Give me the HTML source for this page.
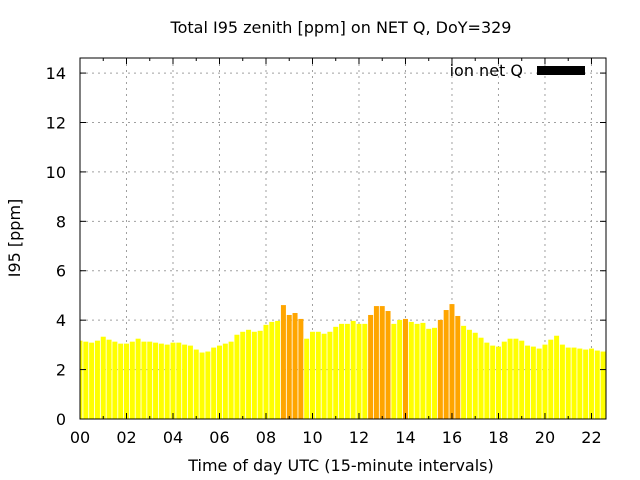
<!DOCTYPE html>
<html><head><meta charset="utf-8">
<style>
body{margin:0;background:#fff;}
svg{display:block;font-family:"DejaVu Sans","Liberation Sans",sans-serif;}
</style></head>
<body>
<svg id="chart" width="640" height="480" viewBox="0 0 640 480" xmlns="http://www.w3.org/2000/svg">
<rect width="640" height="480" fill="#fff"/>
<text x="341" y="33" text-anchor="middle" font-size="16" fill="#000">Total I95 zenith [ppm] on NET Q, DoY=329</text>
<g id="grid"></g>
<g id="bars"></g>
<g id="axes"></g>
<text x="341" y="471" text-anchor="middle" font-size="16">Time of day UTC (15-minute intervals)</text>
<text x="0" y="0" transform="translate(20,238) rotate(-90)" text-anchor="middle" font-size="16">I95 [ppm]</text>
<g>
<text x="523" y="76" text-anchor="end" font-size="16">ion net Q</text>
<rect x="537" y="66" width="48" height="9" fill="#000"/>
</g>
</svg>
<script>
const values = [3.17,3.13,3.09,3.17,3.33,3.21,3.13,3.05,3.05,3.13,3.25,3.13,3.13,3.09,3.05,3.01,3.09,3.09,3.01,2.97,2.81,2.69,2.73,2.89,2.97,3.05,3.13,3.41,3.53,3.61,3.53,3.57,3.81,3.93,3.97,4.61,4.21,4.29,4.05,3.25,3.53,3.53,3.45,3.53,3.73,3.85,3.85,3.97,3.85,3.85,4.21,4.57,4.57,4.37,3.85,4.01,4.05,3.93,3.85,3.89,3.65,3.69,4.01,4.41,4.65,4.17,3.77,3.61,3.49,3.29,3.09,2.97,2.93,3.13,3.25,3.25,3.17,2.97,2.93,2.85,3.01,3.21,3.37,3.01,2.89,2.89,2.85,2.81,2.85,2.77,2.73,2.73];
const highlighted = [0,0,0,0,0,0,0,0,0,0,0,0,0,0,0,0,0,0,0,0,0,0,0,0,0,0,0,0,0,0,0,0,0,0,0,1,1,1,1,0,0,0,0,0,0,0,0,0,0,0,1,1,1,1,0,0,1,0,0,0,0,0,1,1,1,1,0,0,0,0,0,0,0,0,0,0,0,0,0,0,0,0,0,0,0,0,0,0,0,0,0,0];
const xTicks = [0,2,4,6,8,10,12,14,16,18,20,22];
const xTickLabels = ["00","02","04","06","08","10","12","14","16","18","20","22"];
const yTicks = [0,2,4,6,8,10,12,14];
const yTickLabels = ["0","2","4","6","8","10","12","14"];
const stepHours = 0.25;

const L=80,R=606,T=58,B=419;
const xMax=22.625, yMax=14.61;
const xs=h=>L+h/xMax*(R-L);
const ys=v=>B-v/yMax*(B-T);
const NS="http://www.w3.org/2000/svg";
function mk(tag,attrs,parent){const e=document.createElementNS(NS,tag);for(const k in attrs)e.setAttribute(k,attrs[k]);parent.appendChild(e);return e;}
const grid=document.getElementById('grid'),bars=document.getElementById('bars'),axes=document.getElementById('axes');
xTicks.forEach((t,i)=>{
  const x=xs(t);
  if(t>0){const g=mk('line',{x1:x,x2:x,y1:T,y2:B,stroke:'#a0a0a0','stroke-width':1,'stroke-dasharray':'2,4'},grid);
  
  }
  const tx=mk('text',{x:x,y:443,'text-anchor':'middle','font-size':16},axes);
  tx.textContent=xTickLabels[i];
  
  
  [B,T].forEach((yy,j)=>{const tk=mk('line',{x1:x,x2:x,y1:yy,y2:j?yy+6:yy-6,stroke:'#000'},axes);
  
  });
  const mx=xs(t+1);
  if(mx<R){[B,T].forEach((yy,j)=>{const tk=mk('line',{x1:mx,x2:mx,y1:yy,y2:j?yy+3:yy-3,stroke:'#000'},axes);
  
  });}
});
yTicks.forEach((t,i)=>{
  const y=ys(t);
  if(t>0){const g=mk('line',{x1:L,x2:R,y1:y,y2:y,stroke:'#a0a0a0','stroke-width':1,'stroke-dasharray':'2,4'},grid);
  
  }
  const tx=mk('text',{x:66,y:y+6,'text-anchor':'end','font-size':16},axes);
  tx.textContent=yTickLabels[i];
  
  
  [L,R].forEach((xx,j)=>{const tk=mk('line',{x1:xx,x2:j?xx-6:xx+6,y1:y,y2:y,stroke:'#000'},axes);
  
  });
});
const bw=stepHours*0.86/xMax*(R-L);
values.forEach((v,i)=>{
  const c=xs(i*stepHours);
  let x0=Math.max(L,c-bw/2),x1=Math.min(R,c+bw/2);
  if(x1<=x0)return;
  const r=mk('rect',{x:x0,y:ys(v),width:x1-x0,height:B-ys(v),fill:highlighted[i]?'#ffa500':'#ffff00'},bars);
  
  
});
const fr=mk('rect',{x:L,y:T,width:R-L,height:B-T,fill:'none',stroke:'#000','stroke-width':1},axes);


</script>
</body></html>
